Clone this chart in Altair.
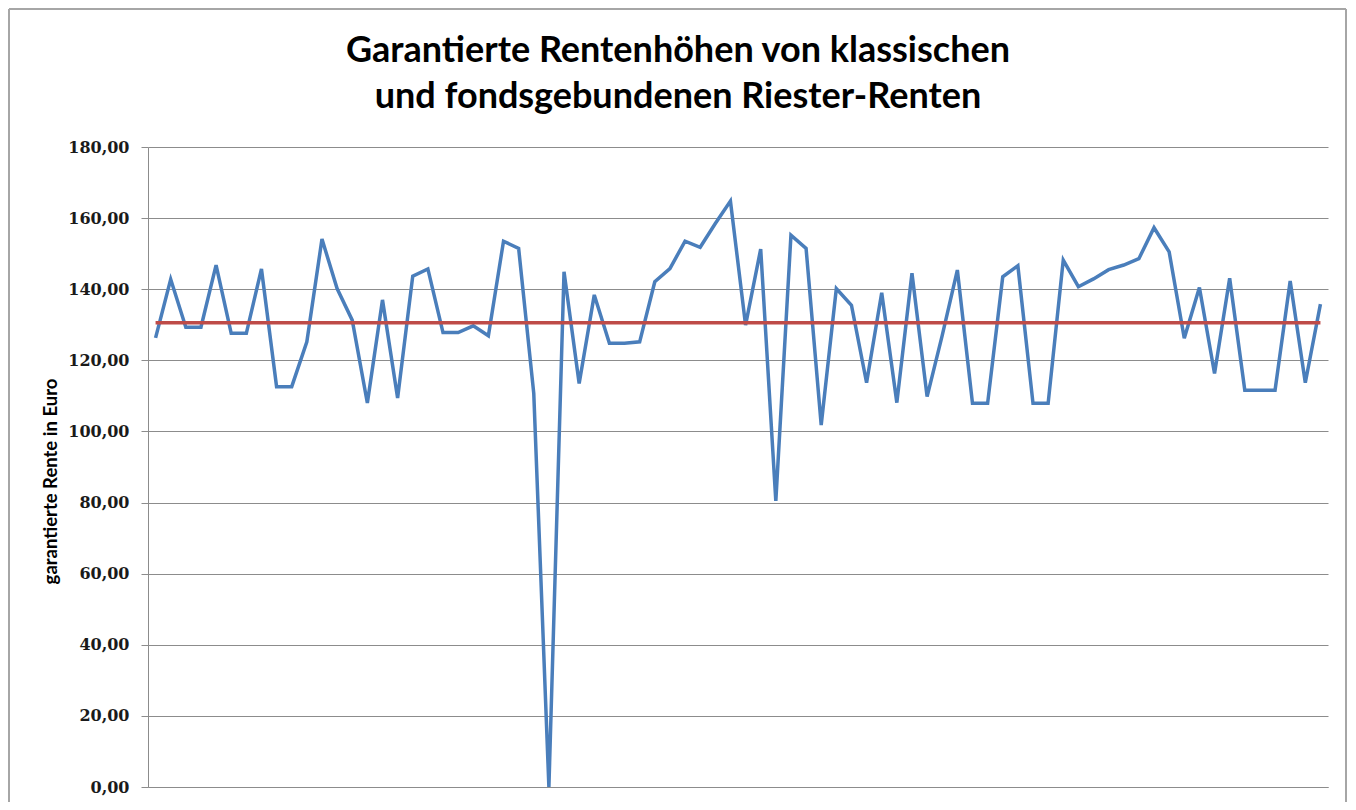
import altair as alt
import pandas as pd

# ---- data ----
title_lines = ["Garantierte Rentenhöhen von klassischen", "und fondsgebundenen Riester-Renten"]
y_axis_title = "garantierte Rente in Euro"

rente_values = [
    126.3, 142.8, 129.3, 129.3, 146.8, 127.6, 127.6, 145.7, 112.6, 112.6,
    125.2, 154.1, 140.2, 131.3, 108.0, 137.0, 109.4, 143.7, 145.7, 127.8,
    127.8, 129.7, 126.9, 153.5, 151.5, 110.7, 0.0, 144.9, 113.5, 138.4,
    124.8, 124.8, 125.2, 142.1, 145.8, 153.5, 151.8, 158.5, 164.8, 129.9,
    151.3, 80.5, 155.2, 151.5, 101.8, 140.2, 135.5, 113.7, 139.0, 108.1,
    144.5, 109.8, 127.0, 145.4, 107.9, 107.9, 143.5, 146.6, 107.9, 107.9,
    148.2, 140.7, 142.9, 145.5, 146.8, 148.6, 157.3, 150.5, 126.2, 140.5,
    116.3, 143.1, 111.6, 111.6, 111.6, 142.3, 113.7, 135.8,
]
categories = list(range(1, len(rente_values) + 1))
average_value = 130.6
y_ticks = [0, 20, 40, 60, 80, 100, 120, 140, 160, 180]

# ---- tables ----
df = pd.DataFrame({"Nr": categories, "Rente": rente_values})
avg_df = pd.DataFrame({"start": [categories[0]], "end": [categories[-1]], "Rente": [average_value]})
one_row = pd.DataFrame({"k": [0]})

BLUE = "#4A7EBB"
RED = "#BE4B48"
GRID = "#8C8C8C"

W, H = 1180, 640
PAD_L, PAD_T, PAD_R, PAD_B = 140, 139, 20, 15

x_enc = alt.X(
    "Nr:O",
    scale=alt.Scale(type="point", padding=0.5),
    axis=alt.Axis(labels=False, ticks=False, title=None, grid=False,
                  domain=True, domainColor=GRID, domainWidth=1),
)
y_enc = alt.Y(
    "Rente:Q",
    scale=alt.Scale(domain=[0, 180], nice=False),
    axis=alt.Axis(
        values=y_ticks,
        labelExpr="replace(format(datum.value, '.2f'), '.', ',')",
        labelFont="DejaVu Serif",
        labelFontSize=16,
        labelFontWeight="bold",
        labelColor="#1a1a1a",
        labelPadding=12,
        tickSize=7,
        tickColor=GRID,
        domainColor=GRID,
        grid=True,
        gridColor=GRID,
        gridWidth=1,
        title=y_axis_title,
        titleFont="Lato",
        titleFontSize=18.5,
        titleFontWeight="bold",
        titleColor="#000000",
        titleX=-98,
        titleY=334,
        titleAngle=-90,
        titleBaseline="middle",
        titleAlign="center",
    ),
)

blue_line = alt.Chart(df).mark_line(color=BLUE, strokeWidth=3.5, strokeJoin="miter").encode(
    x=x_enc, y=y_enc
)

red_line = alt.Chart(avg_df).mark_rule(color=RED, strokeWidth=3.5).encode(
    x=alt.X("start:O"), x2="end:O", y=alt.Y("Rente:Q")
)

# outer chart frame (decoration)
frame_top = alt.Chart(one_row).mark_rule(color="#A6A6A6", strokeWidth=2).encode(
    x=alt.value(-139), x2=alt.value(W + PAD_R - 2), y=alt.value(-138)
)
frame_left = alt.Chart(one_row).mark_rule(color="#A6A6A6", strokeWidth=2).encode(
    x=alt.value(-139), y=alt.value(-138), y2=alt.value(H + PAD_B)
)
frame_right = alt.Chart(one_row).mark_rule(color="#A6A6A6", strokeWidth=2).encode(
    x=alt.value(W + PAD_R - 2), y=alt.value(-138), y2=alt.value(H + PAD_B)
)

chart = (
    alt.layer(blue_line, red_line, frame_top, frame_left, frame_right)
    .properties(
        width=W,
        height=H,
        autosize=alt.AutoSizeParams(type="none"),
        padding={"left": PAD_L, "top": PAD_T, "right": PAD_R, "bottom": PAD_B},
        title=alt.TitleParams(
            text=title_lines,
            font="Lato",
            fontSize=36,
            fontWeight="bold",
            color="#000000",
            anchor="middle",
            frame="group",
            baseline="top",
            dx=-60,
            offset=-108,
            lineHeight=46,
        ),
        background="white",
    )
    .configure_view(stroke=None)
)

chart.save("out.html", embed_options={"renderer": "svg", "actions": False})
